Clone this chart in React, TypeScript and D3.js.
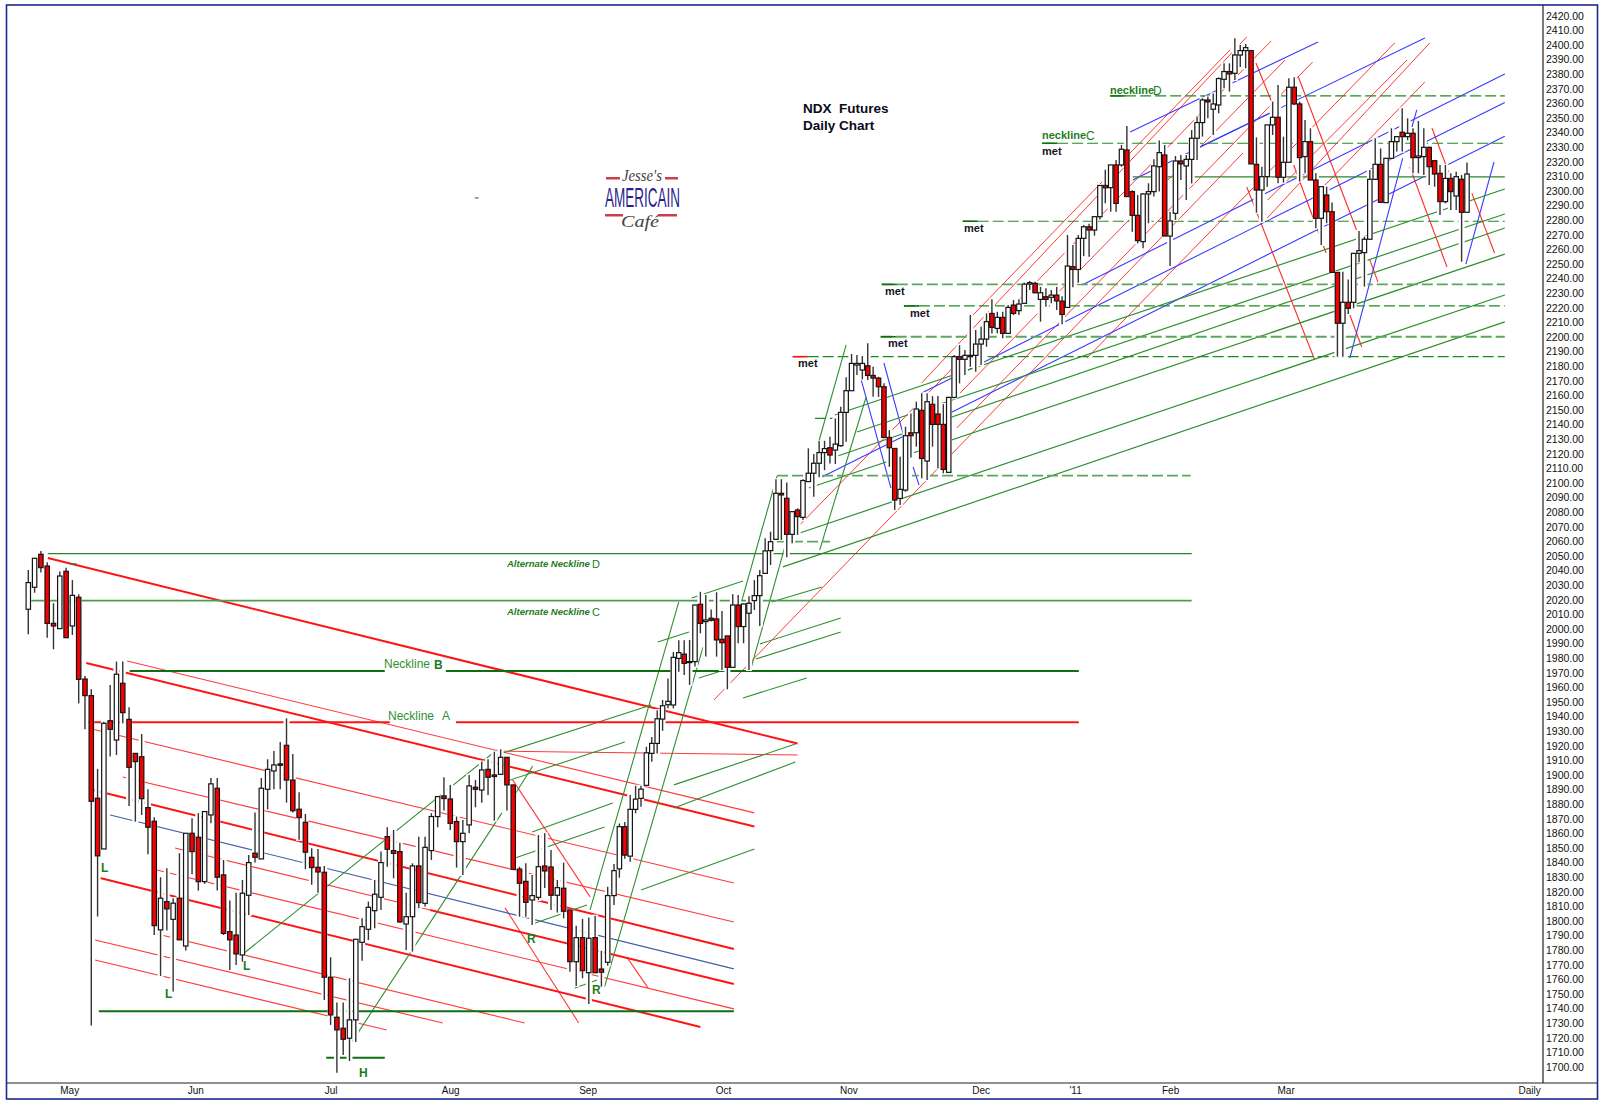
import React, { useRef, useEffect } from 'react';
import * as d3 from 'd3';

// [open, high, low, close]
const mayBars = [
  [2015.1, 2041.9, 1998, 2033.3], [2030.1, 2050, 2026.4, 2049.9], [2052.6, 2054.9, 2040.1, 2043.5], [2044.6, 2047.1, 1995.7, 2005.5],
  [2005.5, 2019.2, 1987.8, 2003.7], [2001.9, 2040.8, 2001.9, 2037.8], [2041, 2043.5, 1995.7, 1995.7], [2003.7, 2035, 1997.6, 2024.6],
  [2023.3, 2025.3, 1950.9, 1967.3], [1967.5, 1969.6, 1933.2, 1956.2], [1956.2, 1960.5, 1731.1, 1884.1], [1886.2, 1906.2, 1805.5, 1846.9],
  [1851.6, 1938.4, 1851.6, 1937.3], [1939.1, 1963.5, 1914.6, 1933.2], [1925.9, 1979.4, 1915.7, 1970.8], [1964.6, 1979.4, 1937.3, 1944.6],
  [1940, 1948.2, 1880.9, 1907.3], [1916.8, 1916.8, 1870.2, 1911.2], [1914.5, 1930, 1874.8, 1885.9], [1879.8, 1892.3, 1848, 1866.4],
];
const juneBars = [
  [1870.5, 1873.2, 1792.9, 1799.3], [1796.4, 1832.3, 1765, 1818], [1815.7, 1838.4, 1795.9, 1810.7], [1803.6, 1818, 1754.3, 1814.6],
  [1818, 1848.7, 1789.6, 1789.6], [1785.4, 1862.3, 1782.3, 1862.3], [1862.3, 1872.5, 1834.3, 1849.8], [1859.6, 1876, 1823.2, 1829.3],
  [1829.3, 1877.1, 1827.8, 1877.1], [1874.8, 1900, 1869.1, 1896], [1893, 1900, 1823.2, 1832.3], [1833.9, 1844.1, 1792.9, 1794],
  [1795.2, 1816.4, 1769.1, 1789.6], [1792.9, 1821.8, 1772.5, 1780], [1779.3, 1830.5, 1774.8, 1821.4], [1820, 1847.5, 1806.6, 1842.3],
  [1848.7, 1876.4, 1842.3, 1845.9], [1844.8, 1900, 1844.8, 1893], [1892.3, 1912.8, 1878.6, 1905.9], [1904.8, 1918.4, 1892.3, 1908.9],
  [1909.6, 1924.6, 1892.3, 1908.7], [1922.3, 1940.7, 1883.2, 1898.6], [1898.6, 1916.4, 1876.4, 1877.7], [1878.7, 1890.3, 1857.8, 1873],
];
const julyBars = [
  [1869.8, 1875.5, 1837.8, 1849.4], [1845.9, 1852, 1827.1, 1838.9], [1839.1, 1851.6, 1821.8, 1835.9], [1835.7, 1840, 1748.6, 1764.1],
  [1764.1, 1777.7, 1731.6, 1738.4], [1736.8, 1746.8, 1699, 1728.2], [1729.3, 1746.8, 1711.1, 1721.8], [1722.5, 1763.4, 1707, 1735],
  [1735, 1790, 1720, 1790], [1787.9, 1804.3, 1775.4, 1798.6], [1796.8, 1815.7, 1789.5, 1811.8], [1809.5, 1830.4, 1797.5, 1820.7],
  [1818.6, 1849.8, 1810, 1842.3], [1860, 1866.4, 1839.5, 1851.4], [1850.5, 1864.6, 1831.6, 1848.6], [1849.8, 1855.9, 1801.3, 1801.8],
  [1800.4, 1821.8, 1782.7, 1805.4], [1805.4, 1841.8, 1781.6, 1840], [1840, 1860, 1811.1, 1815], [1814.5, 1860, 1812.3, 1852.7],
];
const augustBars = [
  [1850.5, 1876, 1844.1, 1873.7], [1873.7, 1887.3, 1866.4, 1887.3], [1887.8, 1900.5, 1877.8, 1886], [1885.7, 1895.3, 1864.6, 1869.1],
  [1870.3, 1873.7, 1838.9, 1856.6], [1856.6, 1871.4, 1833.9, 1862.3], [1868, 1902.1, 1862.3, 1894.6], [1893.7, 1898.7, 1880, 1892.3],
  [1891.8, 1911.2, 1883.2, 1905.5], [1905.9, 1912.8, 1888.4, 1900.5], [1902.1, 1918, 1870.9, 1901], [1902.5, 1919.6, 1902.5, 1914.1],
  [1914.1, 1914.1, 1877.8, 1895.3], [1895.3, 1895.3, 1837.7, 1837.7], [1837.9, 1839.5, 1805.4, 1828.2], [1829.5, 1841.8, 1805.4, 1815.2],
  [1816.8, 1833.9, 1799.7, 1819.8], [1818.6, 1861.1, 1816.8, 1839.5], [1840, 1862.3, 1825, 1836.6], [1839.3, 1850.9, 1810, 1820],
  [1820, 1830.4, 1808.2, 1825.2], [1824.8, 1842.3, 1804.3, 1809.1],
];
const septemberBars = [
  [1810, 1810, 1767.9, 1774.7], [1774.7, 1799.3, 1758.1, 1791.1], [1791.1, 1803.9, 1763.4, 1768.6], [1767.2, 1804.8, 1745.9, 1790.7],
  [1791.1, 1806.1, 1767.2, 1767.2], [1769.7, 1782.2, 1757.7, 1767.5], [1774.3, 1825.9, 1772, 1819.8], [1819.8, 1841.4, 1813.4, 1836.8],
  [1838, 1869, 1832, 1866.8], [1866.8, 1870, 1845, 1847.4], [1846.7, 1888.4, 1842.9, 1878.6], [1878.6, 1894.7, 1875.9, 1885.6],
  [1886.1, 1894.7, 1880.4, 1892.4], [1895, 1921.3, 1895, 1917.2], [1916.8, 1928, 1911.1, 1923.6], [1923.6, 1946.3, 1916.8, 1940.4],
  [1940.2, 1953.2, 1932.2, 1949.3], [1950, 1967.9, 1947.5, 1952.3], [1949.8, 1986, 1947.5, 1982.3], [1981.6, 1994, 1972.5, 1985.5],
  [1984.5, 1994, 1970.2, 1978.2], [1979, 1994.2, 1963.5, 1979.4], [1979.4, 2018, 1976, 2018],
];
const octoberBars = [
  [2018.5, 2027, 1998.7, 2005.5], [2006.7, 2024.9, 1982.8, 2007.8], [2009, 2015, 2006.7, 2007.6], [2008.5, 2026.7, 1982.8, 1994.2],
  [1994.6, 2013.9, 1973.7, 1992.3], [1996.9, 1996.9, 1960.5, 1975.5], [1975.5, 2025.3, 1975.5, 2018], [2018, 2024.9, 1991.9, 2003.3],
  [2003.3, 2019, 1991.9, 2018.7], [2012.4, 2024, 1973.7, 2019.2], [2021, 2035, 2014.6, 2024.4], [2024.4, 2041.9, 2003.7, 2038],
  [2039.6, 2063.5, 2039.6, 2054.9], [2055.1, 2068, 2045.3, 2061.2], [2062.8, 2103.8, 2062.4, 2094.2], [2094.2, 2103.8, 2062.4, 2093.1],
  [2090.8, 2101.5, 2050.6, 2066.2], [2066.2, 2082, 2060.1, 2081.7], [2082.8, 2084, 2065.8, 2078.3], [2077.8, 2103.8, 2076, 2102.9],
  [2102.2, 2124.9, 2102.2, 2107.9], [2107.9, 2121, 2091.9, 2114.7], [2114.7, 2130, 2105.1, 2122], [2122, 2130, 2110, 2124.7],
];
const novemberBars = [
  [2125.3, 2132.8, 2114.6, 2120.3], [2123.7, 2145.3, 2114.2, 2127.8], [2126.7, 2153.3, 2126, 2149.4], [2149.4, 2173.3, 2129.4, 2164.2],
  [2164.2, 2189.2, 2164.2, 2182.8], [2181.7, 2188.5, 2174.9, 2182.8], [2178.3, 2187.8, 2171.9, 2182.8], [2181.2, 2196.5, 2171.5, 2174.6],
  [2174.6, 2180.5, 2160.1, 2172.8], [2172.8, 2173.7, 2160, 2166.9], [2166.9, 2169.2, 2132.3, 2132.3], [2132.3, 2137.3, 2112.3, 2125.3],
  [2124.8, 2124.8, 2082.8, 2089.6], [2090.7, 2119.2, 2086.2, 2096.9], [2096.4, 2139.6, 2095.3, 2133.5], [2135.5, 2148.7, 2118.7, 2133.5],
  [2135.5, 2156.7, 2126, 2151.7], [2150.8, 2162.4, 2104.4, 2118], [2116.2, 2162.4, 2103.2, 2156.7], [2154.9, 2160.5, 2126, 2141.2],
  [2148.3, 2160.5, 2111.2, 2141.2], [2141.2, 2155, 2107.8, 2110.5], [2108.5, 2160, 2108.5, 2159.6],
];
const decemberBars = [
  [2159.6, 2188.5, 2159, 2187.4], [2187.4, 2195.3, 2169.2, 2185.6], [2185.6, 2192, 2174.9, 2188.3], [2188.3, 2215.8, 2180.5, 2187.4],
  [2188.3, 2205.6, 2177.1, 2196], [2196, 2207.8, 2181.7, 2199.4], [2199.4, 2216.9, 2194.2, 2211.3], [2216.9, 2226.5, 2203.3, 2207.4],
  [2206.7, 2218, 2203.3, 2214.2], [2214.2, 2218, 2199.9, 2203.3], [2203.3, 2222.6, 2203.3, 2221], [2222.6, 2226, 2215.8, 2216.9],
  [2218.8, 2226.5, 2215.8, 2223.3], [2223.8, 2237.9, 2223.8, 2236.9], [2236.9, 2239, 2232.9, 2237.9], [2237.4, 2238.5, 2230.6, 2231],
  [2226.5, 2235, 2211.3, 2231], [2228.3, 2234, 2221.5, 2226.5], [2227.9, 2232.9, 2223.8, 2229.4], [2229.4, 2235, 2219.2, 2225.4],
];
const januaryBars = [
  [2225.3, 2228.7, 2209.6, 2216.2], [2221, 2270.4, 2221, 2249.2], [2248.8, 2263.5, 2234.7, 2246.9], [2246.9, 2270.4, 2237.8, 2268.1],
  [2268.1, 2277.2, 2256, 2276], [2276, 2278, 2255.6, 2273.8], [2273.8, 2283, 2270, 2282.9], [2282.9, 2304.5, 2281, 2304.2],
  [2304.2, 2315, 2292, 2302.6], [2302.7, 2318.2, 2286.3, 2318.2], [2318.2, 2321.6, 2286.3, 2292], [2318.2, 2331.8, 2317, 2328.9],
  [2328.4, 2344.8, 2296.6, 2296.6], [2300, 2301, 2272.7, 2283.8], [2283.8, 2297.7, 2264.7, 2266.6], [2265.9, 2298.9, 2261.3, 2298.4],
  [2298.4, 2305.7, 2278.4, 2300], [2300, 2322, 2296.6, 2317.5], [2317, 2334.8, 2300, 2326.6], [2325, 2331.8, 2269.7, 2269.7],
];
const februaryBars = [
  [2269.7, 2286.3, 2249.3, 2280], [2285.2, 2324.3, 2280.7, 2320.9], [2320.9, 2325, 2308, 2318.9], [2317.5, 2325, 2294.3, 2322],
  [2322, 2342, 2305.6, 2336.4], [2336.4, 2351.2, 2321.6, 2347.1], [2347.1, 2363.7, 2337.5, 2362.5], [2362.5, 2364.8, 2350, 2361.2],
  [2356.2, 2367, 2338.6, 2359.8], [2359.1, 2378, 2353.4, 2377.1], [2376.6, 2387.5, 2370.5, 2381.9], [2381.9, 2387.5, 2368.2, 2380.3],
  [2380.7, 2404.6, 2376.2, 2393.2], [2393.2, 2400, 2385, 2396.2], [2396.2, 2400.7, 2384.1, 2398.2], [2396.2, 2396.5, 2318.9, 2318.9],
  [2318.6, 2337, 2285.6, 2301.1], [2301.1, 2317, 2279.5, 2310.2], [2310.2, 2345.5, 2303.4, 2345.5], [2345.5, 2361.4, 2338.6, 2350.7],
];
const marchBars = [
  [2350.7, 2372.7, 2305.7, 2309.8], [2309.8, 2337.5, 2306.1, 2320], [2320, 2377.3, 2320, 2371.2], [2371.2, 2378, 2359, 2359.8],
  [2359.8, 2361.4, 2306.8, 2323.2], [2323.9, 2348.9, 2312.5, 2334.1], [2334.1, 2343.2, 2307.9, 2307.9], [2307.9, 2312.5, 2275, 2281.8],
  [2281.8, 2303.8, 2263.6, 2303.4], [2297.7, 2303.4, 2278.4, 2286.3], [2286.3, 2292.5, 2244.9, 2244.9], [2244.9, 2245, 2187.4, 2210.2],
  [2210.2, 2245.4, 2187.4, 2224.5], [2224.5, 2240, 2216.5, 2220.4], [2224.5, 2258, 2220.4, 2257.9], [2257.9, 2273.1, 2251.8, 2259.7],
  [2258.4, 2269.3, 2235.2, 2267.5], [2267.5, 2314.8, 2267.5, 2308.4], [2308.4, 2336.4, 2308, 2318.6], [2318.6, 2329.5, 2292.7, 2292.7],
  [2292.5, 2323, 2292.5, 2322.7], [2322.7, 2343.2, 2322.7, 2334.1], [2334.1, 2338, 2327.3, 2337.5], [2340.5, 2356.8, 2327.3, 2337.5],
  [2337.5, 2350, 2335, 2339.8], [2339.8, 2343.2, 2312.5, 2323.2], [2323.2, 2348.2, 2312.5, 2324.3], [2323.9, 2343.2, 2311.3, 2330.2],
  [2330.2, 2330.7, 2304.5, 2317], [2321.1, 2321.5, 2303.4, 2312], [2312.5, 2318.2, 2284, 2293.2], [2293.2, 2318.2, 2292, 2309],
  [2309, 2312.5, 2287.5, 2300], [2297, 2313.6, 2287.5, 2310.2], [2308.4, 2311.3, 2252.2, 2285.9], [2285.9, 2319.8, 2285.9, 2312],
];
const bars = [...mayBars, ...juneBars, ...julyBars, ...augustBars, ...septemberBars, ...octoberBars, ...novemberBars, ...decemberBars, ...januaryBars, ...februaryBars, ...marchBars];

const priceTicks = d3.range(1700, 2421, 10);
const monthTicks = [6.5, 26.5, 48, 67, 88.8, 113.2, 136.4, 160.9, 178.4, 196, 217.4, 262.5];
const monthLabels = ['May', 'Jun', 'Jul', 'Aug', 'Sep', 'Oct', 'Nov', 'Dec', "'11", 'Feb', 'Mar', 'Daily'];

// trend lines: [bar, price, bar, price]
const redThick = [
  [3.1, 2050.1, 127, 1923.5], [9.2, 1978.5, 119, 1866.9], [10.3, 1891.8, 115.2, 1783.4],
  [63.8, 1810, 115.2, 1759.5], [11.4, 1831.8, 109, 1730.2],
];
const redThin = [
  [15.7, 1979.8, 119, 1876.2], [8.8, 1934.8, 115.2, 1828.4], [15, 1900.7, 115.2, 1801.8], [23.3, 1852.3, 63.8, 1810],
  [20.4, 1837.3, 115.2, 1742.5], [19.8, 1794.3, 78.8, 1732.9], [10.6, 1789.5, 65.8, 1732.9], [10.6, 1775.9, 56.9, 1728.1],
  [74.4, 1918.4, 127, 1915.7], [76.9, 1898.7, 89.2, 1818.9], [75.7, 1811.4, 87.4, 1732.9], [95.6, 1776.6, 99.3, 1756.8],
];
const redRising = [
  [111.5, 1953.2, 209.5, 2326.3], [127.4, 2072.6, 214.7, 2402.7], [150, 2169.5, 210.2, 2405.5], [159.5, 2215.8, 207.1, 2396.6],
  [157.1, 2162.6, 217.3, 2389.8], [156.5, 2138.8, 222.4, 2388.4], [180.6, 2186.5, 237.6, 2401.4], [214.1, 2294.3, 239.9, 2389.8],
  [214, 2282, 244.1, 2401.4], [224.7, 2304.5, 243.2, 2374.8],
];
const redFalling = [
  [219.7, 2378.9, 231.1, 2268.4], [211.9, 2387.7, 214.9, 2360.4], [210.2, 2303.1, 222.8, 2185.1], [218.9, 2318.2, 224.9, 2258.1],
  [229.3, 2215.8, 231.5, 2194], [233, 2253.4, 234.5, 2238.4], [240.4, 2316.8, 247.3, 2248.6], [244.5, 2343.4, 247.8, 2311.3],
  [251.9, 2299, 256.1, 2258.1],
];
const steelBlue = [[13, 1874.8, 115.2, 1769.8]];
const blueRising = [
  [179.7, 2236.3, 258, 2380.2], [150, 2162.6, 258, 2360.8], [131.5, 2105.3, 258, 2337.7],
  [201.1, 2329.7, 243.2, 2404.8], [188.6, 2340.7, 223.4, 2402.1], [189.1, 2307.9, 214.5, 2353.6],
];
const blueSteep = [
  [138.6, 2174.2, 144.3, 2097.8], [143, 2183.1, 146.5, 2135.4], [148.4, 2112.2, 149.5, 2099.9],
  [241.7, 2355.7, 240.8, 2344.1], [239.1, 2322.9, 229.3, 2186.5], [256, 2320.2, 250.8, 2250.6],
];
const greenChannels = [
  [33.9, 1779.3, 74.4, 1919.1], [51.4, 1720, 75.2, 1876.2], [73.9, 1915, 99.9, 1949.8], [76.1, 1898, 95, 1924.6],
  [77.3, 1889.1, 80.1, 1908.2], [80, 1863.2, 92.8, 1883], [77.3, 1845.5, 91.5, 1866.6], [79.6, 1799.8, 88.7, 1813.4],
  [86.8, 1756.8, 90.3, 1762.2], [89.2, 1810, 105, 2020.1], [91.5, 1757.5, 109.5, 1989.4], [98, 1823.6, 119, 1851.6],
  [104.1, 1895.3, 126.6, 1923.2], [104.1, 1879.6, 126.6, 1910.9], [123.2, 2106, 116.7, 2021.4], [118.4, 1975.1, 125, 2062.4],
  [130.6, 2125.1, 136, 2195.4], [131.1, 2055.5, 139.7, 2159.9],
  [107.4, 2022.8, 116.9, 2034.4], [101.1, 1992.8, 106.9, 1999.6], [122.2, 2020.1, 131.5, 2030.3], [120, 1991.4, 135, 2009.2],
  [119.3, 1981.2, 135, 1999.6], [116.9, 1954.6, 128.7, 1968.2], [108.7, 1968.2, 112.3, 1972.3],
];
const greenFan = [
  [124.3, 2044, 258, 2211.1], [127.4, 2067.1, 258, 2229.5], [129.1, 2097.8, 258, 2257.4],
  [133.9, 2119, 258, 2275.2], [138, 2136, 258, 2284.7], [133.9, 2147.6, 258, 2301.8],
];
// horizontal levels: [price, from bar, to bar]
const dashedLevels = [
  [2365.3, 184.9, 258], [2333, 172.3, 258], [2279.8, 157.6, 258], [2222, 146.7, 258], [2187.4, 126.1, 258],
  [2145.3, 130.2, 133.7],
];
const paleDashedLevels = [[2236.7, 142.6, 258], [2201, 142.4, 258], [2106.2, 123.2, 199.8], [2061.2, 123.2, 133]];
const thinLevels = [[2053, 3.1, 200], [2310, 189.1, 258], [2046, 6.6, 7.7], [2295.7, 70.9, 71.5]];
const paleLevels = [[2021, -0.2, 200]];
const darkLevels = [[1973, 16.1, 56.6], [1973, 66.3, 179.1], [1740.9, 11.2, 115.2], [1709.2, 47.3, 56.6]];
const redLevels = [[1938, 8.7, 57.4], [1938, 67.9, 179.1]];
const metTicks = [[2279.8, 157.6], [2236.7, 142.6], [2222, 146.7], [2201, 142.4], [2365.3, 184.9], [2333, 172.3]];
const redMetTick = [[2187.4, 126.1]];

// the readings above were taken with a slightly tighter price step than the axis really has
const recal = p => 2420 - (2420 - p) * (1055.5 / 1051.3);

const App = () => {
  const chartRef = useRef(null);

  useEffect(() => {
    const svg = d3.select(chartRef.current);
    svg.selectAll('*').remove();

    // bars sit closer together after the September break
    const x = d3.scaleLinear().domain([0, 93, bars.length - 1]).range([28.3, 614, 1467]);
    const y = d3.scaleLinear().domain([1700, 2420]).range([1067, 15.7]);
    const yp = p => y(recal(p));

    const segs = (rows, color, width, dash = null) => {
      svg.append('g').selectAll('line').data(rows).enter().append('line')
        .attr('x1', d => x(d[0])).attr('y1', d => yp(d[1]))
        .attr('x2', d => x(d[2])).attr('y2', d => yp(d[3]))
        .attr('stroke', color).attr('stroke-width', width)
        .attr('stroke-dasharray', dash);
    };
    const levels = (rows, color, width, dash = null) => {
      segs(rows.map(d => [d[1], d[0], d[2], d[0]]), color, width, dash);
    };

    segs(redThin, '#ff3a3a', 1.1);
    segs(redThick, '#ff1414', 2);
    segs(redRising, '#ff3a3a', 1);
    segs(redFalling, '#ff2a2a', 1.1);
    segs(steelBlue, '#3f5fa8', 1.1);
    segs(blueRising, '#3a3aff', 1.1);
    segs(blueSteep, '#3a3aff', 1.1);
    segs(greenChannels, '#2f8f2f', 1.1);
    segs(greenFan, '#2f8f2f', 1.2);
    levels(thinLevels, '#2a862a', 1.2);
    levels(paleLevels, '#4c9c4c', 1.6);
    levels(darkLevels, '#0f6e0f', 2);
    levels(redLevels, '#ff1414', 2);
    levels(dashedLevels, '#1f8a1f', 1.2, '11 4');
    levels(paleDashedLevels, '#5aa65a', 1.8, '11 4');
    levels(metTicks.map(d => [d[0], d[1], d[1] + 2.8]), '#0f6e0f', 1.6);
    levels(redMetTick.map(d => [d[0], d[1], d[1] + 2.8]), '#ff1414', 1.6);

    // white halo first, the trend lines break around the candles
    svg.append('g').selectAll('rect').data(bars).enter().append('rect')
      .attr('x', (d, i) => x(i) - 3)
      .attr('y', d => yp(d[1]) - 1)
      .attr('width', 6)
      .attr('height', d => yp(d[2]) - yp(d[1]) + 2)
      .attr('fill', '#ffffff');

    const candle = svg.append('g').selectAll('g').data(bars).enter().append('g');
    candle.append('line')
      .attr('x1', (d, i) => x(i)).attr('x2', (d, i) => x(i))
      .attr('y1', d => yp(d[1])).attr('y2', d => yp(d[2]))
      .attr('stroke', '#333').attr('stroke-width', 1.4);
    candle.append('rect')
      .attr('x', (d, i) => x(i) - 2.2)
      .attr('y', d => yp(Math.max(d[0], d[3])))
      .attr('width', 4.4)
      .attr('height', d => Math.max(1, Math.abs(yp(d[0]) - yp(d[3]))))
      .attr('fill', d => (d[3] >= d[0] ? '#ffffff' : '#f50000'))
      .attr('stroke', '#141414').attr('stroke-width', 1.2);

    // axes
    const priceAxis = d3.axisRight(y).tickValues(priceTicks).tickFormat(d3.format('.2f')).tickSize(0).tickPadding(3);
    const yAxis = svg.append('g').attr('transform', 'translate(1543,0)').call(priceAxis);
    yAxis.select('.domain').remove();
    yAxis.selectAll('text').attr('font-family', 'Liberation Sans, Arial, sans-serif').attr('font-size', 10.5).attr('fill', '#111');

    const monthAxis = d3.axisBottom(x).tickValues(monthTicks)
      .tickFormat((d, i) => monthLabels[i]).tickSize(0).tickPadding(4);
    const xAxis = svg.append('g').attr('transform', 'translate(0,1083)').call(monthAxis);
    xAxis.select('.domain').remove();
    xAxis.selectAll('text').attr('font-family', 'Liberation Sans, Arial, sans-serif').attr('font-size', 10).attr('fill', '#111');

    svg.append('line').attr('x1', 1543).attr('x2', 1543).attr('y1', 5).attr('y2', 1083).attr('stroke', '#222').attr('stroke-width', 1.2);
    svg.append('line').attr('x1', 7).attr('x2', 1597).attr('y1', 1083).attr('y2', 1083).attr('stroke', '#222').attr('stroke-width', 1.2);
    svg.append('rect').attr('x', 6.5).attr('y', 5).attr('width', 1591).attr('height', 1094)
      .attr('fill', 'none').attr('stroke', '#1c2a8c').attr('stroke-width', 1.6);

    // annotations
    const label = (px, py, text, size, color, weight = 'bold', style = 'normal') =>
      svg.append('text').attr('x', px).attr('y', py).text(text)
        .attr('font-family', 'Liberation Sans, Arial, sans-serif')
        .attr('font-size', size).attr('fill', color).attr('font-weight', weight).attr('font-style', style)
        .style('white-space', 'pre');

    label(803, 113, 'NDX  Futures', 13.5, '#0a0a1e');
    label(803, 130, 'Daily Chart', 13.5, '#0a0a1e');

    label(507, 567, 'Alternate Neckline', 9.5, '#1c7d1c', 'bold', 'italic');
    label(592, 568, 'D', 11, '#1c7d1c', 'normal');
    label(507, 615, 'Alternate Neckline', 9.5, '#1c7d1c', 'bold', 'italic');
    label(592, 616, 'C', 11, '#1c7d1c', 'normal');
    label(384, 668, 'Neckline', 12, '#2f8f2f', 'normal');
    label(434, 669, 'B', 12, '#1c7d1c');
    label(388, 720, 'Neckline', 12, '#2f8f2f', 'normal');
    label(442, 720, 'A', 12, '#2f8f2f', 'normal');

    label(1110, 94, 'neckline', 11, '#1c7d1c');
    label(1153, 95, 'D', 12, '#1c7d1c', 'normal');
    label(1042, 139, 'neckline', 11, '#1c7d1c');
    label(1086, 140, 'C', 12, '#1c7d1c', 'normal');

    [[798, 367], [888, 347], [910, 317], [885, 295], [964, 232], [1042, 155]].forEach(p => label(p[0], p[1], 'met', 11, '#15151f'));
    [[101, 872, 'L'], [165, 998, 'L'], [243, 970, 'L'], [527, 943, 'R'], [592, 994, 'R'], [359, 1077, 'H']]
      .forEach(p => label(p[0], p[1], p[2], 12, '#1c7d1c'));

    // cafe logo
    const logo = svg.append('g');
    logo.append('text').attr('x', 622).attr('y', 181).attr('textLength', 40).attr('lengthAdjust', 'spacingAndGlyphs').text("Jesse's")
      .attr('font-family', 'Liberation Serif, serif').attr('font-style', 'italic').attr('font-size', 16).attr('fill', '#444');
    logo.append('text').attr('x', 605).attr('y', 207).attr('textLength', 75).attr('lengthAdjust', 'spacingAndGlyphs').text('AMERICAIN')
      .attr('font-family', 'Liberation Sans Narrow, Liberation Sans, sans-serif').attr('font-size', 28).attr('fill', '#2d1f8f');
    logo.append('text').attr('x', 621).attr('y', 227).attr('textLength', 38).attr('lengthAdjust', 'spacingAndGlyphs').text('Café')
      .attr('font-family', 'Liberation Serif, serif').attr('font-style', 'italic').attr('font-size', 17).attr('fill', '#444');
    logo.selectAll('rect').data([[606, 177, 14], [665, 177, 13], [605, 214, 18], [658, 214, 19]]).enter().append('rect')
      .attr('x', d => d[0]).attr('y', d => d[1]).attr('width', d => d[2]).attr('height', 2.5).attr('fill', '#c8404a');

    return () => {
      svg.selectAll('*').remove();
    };
  }, []);

  return (
    <svg ref={chartRef} width={1600} height={1110} style={{ position: 'absolute', left: 0, top: 0, background: '#fff' }}></svg>
  );
};

export default App;
